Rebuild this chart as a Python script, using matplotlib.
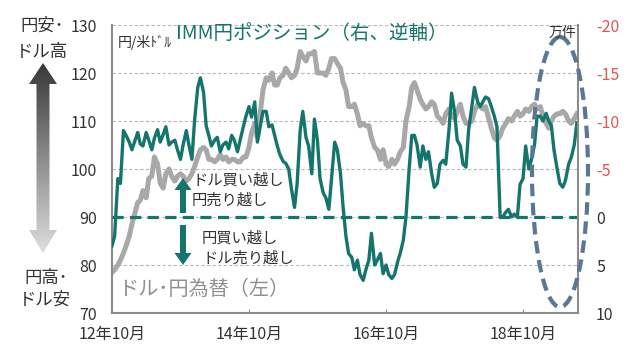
import numpy as np
import pandas as pd
import matplotlib
matplotlib.use("Agg")
import matplotlib.pyplot as plt
from matplotlib.patches import Polygon, Ellipse
from matplotlib.colors import LinearSegmentedColormap

plt.rcParams['font.family'] = ['Noto Sans CJK JP', 'DejaVu Sans']
plt.rcParams['axes.unicode_minus'] = False

# semi-monthly points, Oct 2012 - Jul 2019
dates = pd.date_range("2012-10-01", periods=164, freq="SMS")

# ドル・円為替 (left axis, 円/米ドル)
usdjpy = [
    78.5, 79, 80, 81, 82.5, 84,
    86, 88.5, 91, 93, 93.5, 95.5, 94, 98, 98.5, 102.5, 101, 97,
    96, 99, 100, 98.5, 97.5, 98.5, 99, 98.5, 97.5, 98, 99, 100.5,
    102.5, 104, 104.5, 104, 102, 102, 101.5, 102, 103, 102, 102.5, 101.5,
    102, 102, 101.5, 101.5, 102.5, 102.5, 104.5, 107.5, 109.5, 106.5, 112, 116.5,
    119, 118.5, 120, 117.5, 117.5, 119, 119.5, 121, 120, 119, 119.5, 121,
    124.5, 123.5, 122.5, 124, 124, 124.5, 120, 120, 120, 119.5, 121, 123,
    123, 122, 121, 118, 116.5, 113, 113, 113.5, 111.5, 109, 109.5, 109,
    109, 106.5, 104.5, 104, 102, 104, 101, 100.5, 102, 101, 102, 103.5,
    104.5, 110, 113, 117, 118, 116.5, 114.5, 113.5, 112.5, 113, 114, 113.5,
    111, 110.5, 109.5, 111.5, 112.5, 111, 110.5, 112, 113.5, 111, 109.5, 109.5,
    110, 112, 113.5, 113, 112.5, 113, 110.5, 108.5, 106.5, 106, 107, 108.5,
    109.5, 110.5, 110, 111, 112, 111, 111.5, 112.5, 112, 113, 113.5, 112.5,
    113, 111, 109.5, 108.5, 110, 111, 111.5, 111.5, 112, 111.5, 110, 109.5,
    110.5, 111.5,
]

# IMM円ポジション (right axis, 万件, reversed)
imm = [
    3.0, 2.0, -4.0, -3.5, -9.0, -8.5,
    -7.8, -7.0, -8.0, -8.8, -7.6, -7.4, -8.8, -8.0, -7.0, -8.2, -9.1, -7.8,
    -8.6, -9.4, -7.5, -7.8, -8.0, -7.0, -6.0, -7.5, -9.0, -7.5, -6.0, -10.0,
    -13.5, -14.5, -13.0, -9.5, -8.5, -7.4, -8.0, -8.3, -6.8, -7.5, -7.8, -7.1,
    -8.5, -8.0, -6.8, -8.0, -9.4, -10.5, -11.5, -10.4, -12.0, -7.8, -9.5, -11.0,
    -11.0, -9.4, -9.6, -8.5, -7.4, -6.5, -5.8, -5.6, -5.0, -3.0, -1.0, -3.5,
    -9.0, -11.0, -8.3, -7.4, -4.5, -10.2, -8.0, -4.0, -2.5, -2.0, -0.8, -4.0,
    -7.8, -7.0, -4.5, -1.0, 2.0, 3.8, 4.2, 5.5, 4.5, 6.0, 6.6, 5.5,
    4.5, 1.7, 5.0, 4.5, 3.8, 5.9, 5.0, 6.0, 6.4, 6.0, 4.7, 3.8,
    2.4, 0.0, -5.0, -8.5, -8.5, -7.5, -5.2, -7.4, -6.0, -6.8, -4.5, -3.1,
    -3.5, -5.5, -5.9, -5.5, -9.0, -12.9, -11.0, -8.0, -7.4, -5.5, -5.2, -9.1,
    -11.5, -13.5, -12.0, -11.5, -12.0, -12.5, -12.3, -11.5, -10.5, -9.4, 0.0, 0.0,
    -0.5, -0.8, 0.0, -0.3, 0.0, -3.4, -4.0, -7.4, -5.0, -6.0, -7.5, -10.5,
    -10.5, -10.0, -10.8, -10.0, -9.5, -7.0, -5.0, -3.5, -3.1, -3.8, -5.5, -6.2,
    -7.5, -9.8,
]

tick_dates = ["2012-10-01", "2014-10-01", "2016-10-01", "2018-10-01"]
tick_labels = ["12年10月", "14年10月", "16年10月", "18年10月"]
left_ticks = [70, 80, 90, 100, 110, 120, 130]
right_ticks = [-20, -15, -10, -5, 0, 5, 10]

teal = "#13756c"
gray = "#a8a8a8"
frame = "#8c8c8c"
txt = "#333333"

fig = plt.figure(figsize=(6.4, 3.51), dpi=100)
ax = fig.add_axes([112 / 640, 1 - 313 / 351, 466 / 640, 288 / 351])
ax2 = ax.twinx()

# gray line on left axis
ax.plot(dates, usdjpy, color=gray, lw=3.6, solid_joinstyle="round")
ax.set_ylim(70, 130)
ax.set_yticks(left_ticks)
ax.yaxis.grid(True, ls=(0, (3, 2)), color="#b8b8b8", lw=0.8)
ax.set_xlim(pd.Timestamp("2012-10-01"), pd.Timestamp("2019-07-21"))
ax.set_xticks(pd.to_datetime(tick_dates))
ax.set_xticklabels(tick_labels)
ax.tick_params(axis="x", direction="in", length=3, color=frame, pad=9,
               labelsize=11.5, labelcolor=txt)
ax.tick_params(axis="y", length=0, pad=11, labelsize=11.5, labelcolor=txt)
for s in ["top", "right"]:
    ax.spines[s].set_visible(False)
for s in ["left", "bottom"]:
    ax.spines[s].set_color(frame)
    ax.spines[s].set_linewidth(1.5)

# teal line on reversed right axis
ax2.plot(dates, imm, color=teal, lw=2.4, solid_joinstyle="round")
ax2.axhline(0, color=teal, lw=2.3, ls=(0, (3.5, 2)))
ax2.set_ylim(10, -20)
ax2.set_yticks(right_ticks)
ax2.set_yticklabels([str(v) for v in right_ticks])
ax2.tick_params(axis="y", length=0, pad=13, labelsize=11.5)
for lab, v in zip(ax2.get_yticklabels(), right_ticks):
    lab.set_color("#e05555" if v < 0 else txt)
for s in ["top", "left", "bottom"]:
    ax2.spines[s].set_visible(False)
ax2.spines["right"].set_color(frame)
ax2.spines["right"].set_linewidth(1.5)

# overlay in pixel coordinates for annotations
ov = fig.add_axes([0, 0, 1, 1], zorder=5)
ov.axis("off")

arrow_pts = [(43, 63), (57, 84), (49.5, 84), (49.5, 230), (57, 230), (43, 253),
             (29, 230), (36.5, 230), (36.5, 84), (29, 84)]
poly = Polygon(arrow_pts, closed=True, facecolor="none", edgecolor="none")
ov.add_patch(poly)
cmap = LinearSegmentedColormap.from_list("g", ["#383838", "#dedede"])
grad = np.linspace(0, 1, 200).reshape(-1, 1)
im = ov.imshow(grad, extent=(29, 57, 253, 63), cmap=cmap, aspect="auto")
im.set_clip_path(poly)
ov.set_xlim(0, 640)
ov.set_ylim(351, 0)

ov.text(42, 26, "円安･", ha="center", va="center", fontsize=12.5, color=txt)
ov.text(42, 52, "ドル高", ha="center", va="center", fontsize=12.5, color=txt)
ov.text(46, 278, "円高･", ha="center", va="center", fontsize=12.5, color=txt)
ov.text(45, 300, "ドル安", ha="center", va="center", fontsize=12.5, color=txt)

ov.text(118, 42, "円/米ﾄﾞﾙ", ha="left", va="center", fontsize=10, color=txt)
ov.text(176, 33, "IMM円ポジション（右、逆軸）", ha="left", va="center",
        fontsize=14, color=teal)
ov.text(576, 33, "万件", ha="right", va="center", fontsize=10, color=txt)

ov.arrow(183, 213, 0, -35, width=6, head_width=17, head_length=12,
         length_includes_head=True, color=teal, lw=0)
ov.arrow(183, 225, 0, 40, width=6, head_width=17, head_length=12,
         length_includes_head=True, color=teal, lw=0)
ov.text(192, 180, "ドル買い越し", ha="left", va="center", fontsize=11, color=txt)
ov.text(192, 200, "円売り越し", ha="left", va="center", fontsize=11, color=txt)
ov.text(202, 238, "円買い越し", ha="left", va="center", fontsize=11, color=txt)
ov.text(202, 258, "ドル売り越し", ha="left", va="center", fontsize=11, color=txt)

ov.text(118, 289, "ドル･円為替（左）", ha="left", va="center", fontsize=14.5,
        color="#909090")

ov.add_patch(Ellipse((560, 172), 56, 270, fill=False, edgecolor="#5a7896",
                     lw=3, ls=(0, (3, 1.6))))

fig.savefig("out.png", dpi=100)
